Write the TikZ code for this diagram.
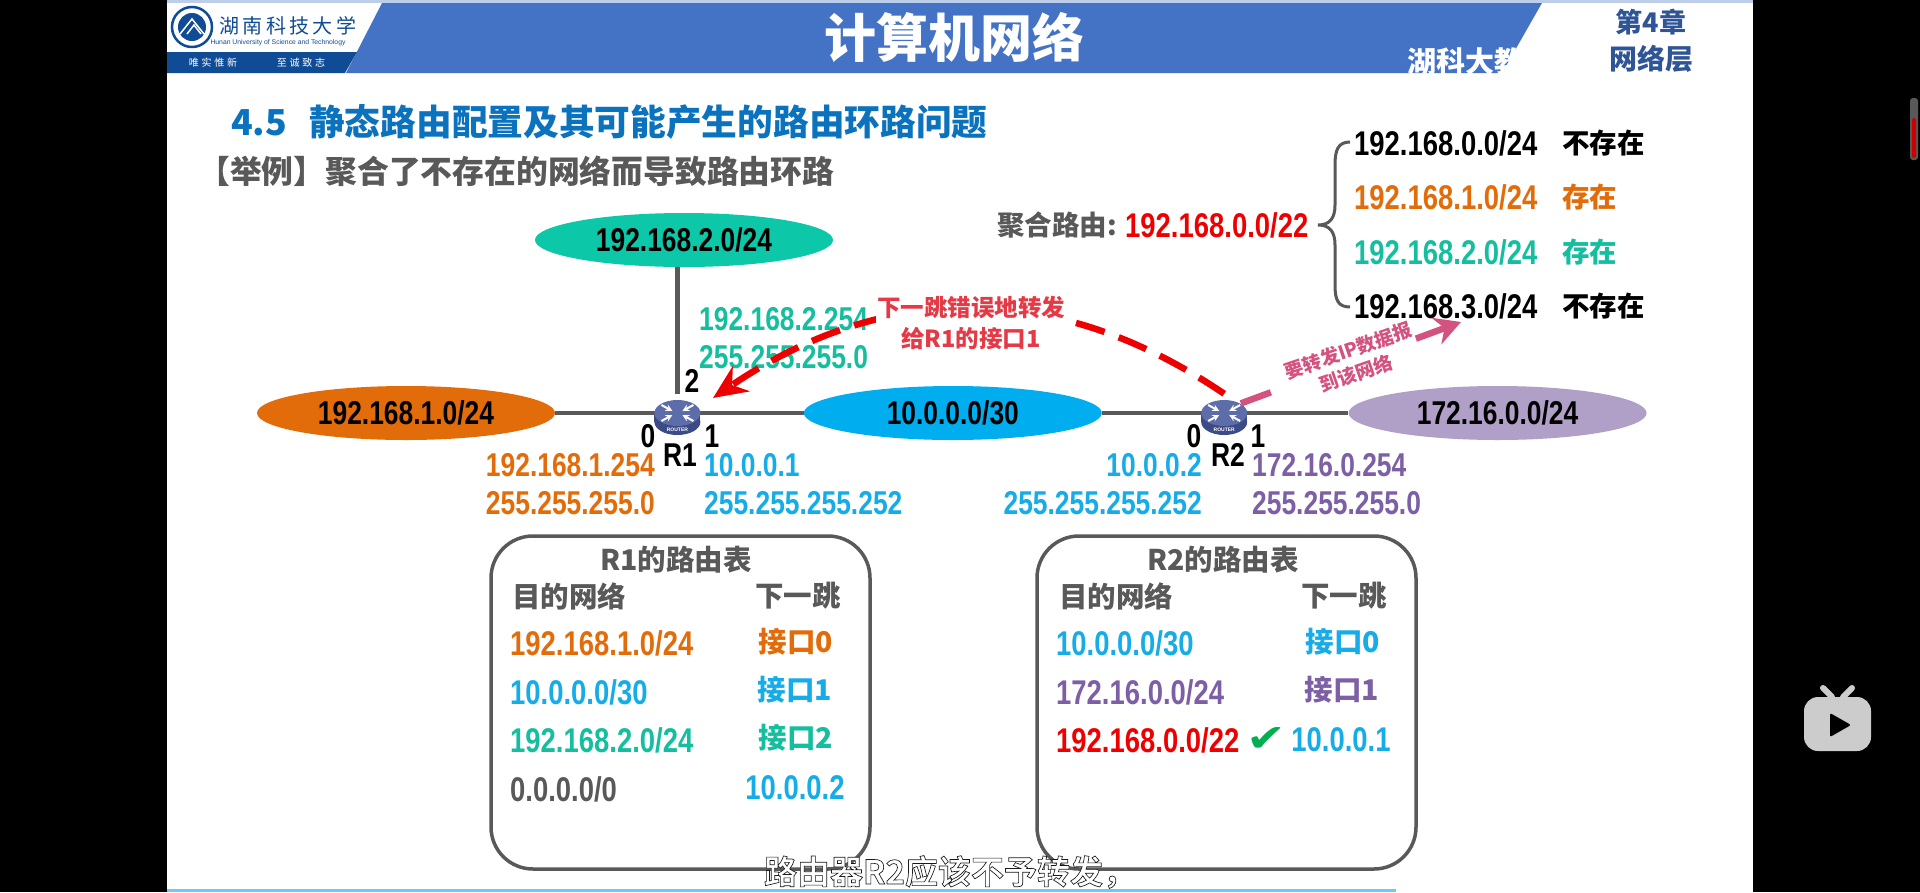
\documentclass[tikz,border=0pt]{standalone}
\usepackage{xcolor}
\usepackage{fontspec}
\usepackage{tikz}
\usetikzlibrary{shapes,arrows,arrows.meta,positioning,calc}
\setmainfont{Liberation Sans}
\newfontfamily\cjk{Noto Sans CJK SC}
\newfontfamily\cjkfat[FakeBold=2]{Noto Sans CJK SC Bold}
\newfontfamily\numf[FakeStretch=0.8]{Liberation Sans}
\newfontfamily\symb[FakeStretch=1.25]{DejaVu Sans}
\newcommand{\fsz}[1]{\fontsize{#1}{#1}\selectfont}
\definecolor{headblue}{HTML}{4472C4}
\definecolor{logoblue}{HTML}{0F4C95}
\definecolor{chapblue}{HTML}{2F5597}
\definecolor{titleblue}{HTML}{0B72BE}
\definecolor{txtgray}{HTML}{595959}
\definecolor{netgreen}{HTML}{0CC8A8}
\definecolor{netorange}{HTML}{E36C0A}
\definecolor{netblue}{HTML}{00AEEF}
\definecolor{netpurple}{HTML}{B09FC6}
\definecolor{lblgreen}{HTML}{14BE9E}
\definecolor{lblblue}{HTML}{16ACE8}
\definecolor{lblpurple}{HTML}{7D5FA5}
\definecolor{redline}{HTML}{EE0000}
\definecolor{redtxt}{HTML}{E63946}
\definecolor{pinkline}{HTML}{D4527F}
\definecolor{okgreen}{HTML}{00B050}
\definecolor{routtop}{HTML}{5C6DAA}
\definecolor{routside}{HTML}{3D4B85}
\newcommand{\routericon}[1]{
  \begin{scope}[shift={(#1.center)}]
    \fill[routside] (0,9) ellipse[x radius=23, y radius=13];
    \fill[routside] (-23,0) rectangle (23,9);
    \fill[routtop] (0,0) ellipse[x radius=23, y radius=13];
    \foreach \sx/\sy in {1/1,-1/1,1/-1,-1/-1} {
      \draw[white, line width=2pt, ->, >=stealth] (\sx*16,\sy*8) -- (\sx*5,\sy*2);
    }
    \node[text=white, font=\bfseries\fsz{5}, inner sep=0] (#1lbl) at (0,17) {ROUTER};
  \end{scope}
}
\begin{document}
\begin{tikzpicture}[
  x=1pt, y=-1pt,
  net/.style={ellipse, minimum width=298pt, minimum height=54pt, inner sep=0pt, font=\numf\bfseries\fsz{33}, text=black},
  router/.style={circle, minimum size=38pt, inner sep=0pt},
  port/.style={inner sep=0pt, font=\numf\bfseries\fsz{33}, text=black},
  addr/.style={inner sep=0pt, font=\numf\bfseries\fsz{33}},
  rowtxt/.style={inner sep=0pt, font=\numf\bfseries\fsz{34.3}},
  cjktxt/.style={inner sep=0pt, font=\cjk\bfseries\fsz{27.5}},
  tabtxt/.style={inner sep=0pt, font=\cjk\bfseries\fsz{28.5}},
  rtable/.style={rectangle, draw=txtgray, line width=3.5pt, rounded corners=42pt, minimum width=379pt, minimum height=333pt, inner sep=0pt},
  link/.style={draw=txtgray, line width=4.5pt},
  redarrow/.style={-{Stealth[length=34pt,width=30pt]}, draw=redline, line width=6.5pt, dash pattern=on 30pt off 15pt},
  pinkarrow/.style={-{Stealth[length=26pt,width=28pt]}, draw=pinkline, line width=6.5pt, dash pattern=on 32pt off 150pt on 60pt}
]
  \useasboundingbox (0,0) rectangle (1920,892);
  \fill[black] (0,0) rectangle (1920,892);
  \fill[white] (167,0) rectangle (1753,892);
  \fill[headblue!35!white] (167,0) rectangle (1753,3);
  \fill[headblue] (382,3) -- (1542,3) -- (1502,73) -- (346,73) -- cycle;
  \fill[logoblue] (167,52) -- (357,52) -- (345,73) -- (167,73) -- cycle;
  \fill[cyan!60!white] (167,889) rectangle (1396,892);

  \node[circle, fill=white, draw=logoblue, line width=2.5pt, minimum size=40pt, inner sep=0pt] (logo) at (192,27) {};
  \fill[logoblue] (192,27) circle[radius=14];
  \draw[white, line width=1.5pt] (180,34) -- (192,19) -- (204,34);
  \draw[white, line width=1.5pt] (187,34) -- (194,25) -- (201,34);
  \node[inner sep=0pt, text=logoblue, font=\cjk\fsz{20}] (school) at (288,26) {湖\,南\,科\,技\,大\,学};
  \node[inner sep=0pt, text=logoblue, font=\fsz{6.8}] (schoolen) at (278,43) {Hunan University of Science and Technology};
  \node[inner sep=0pt, text=white, font=\cjk\fsz{10}] (mottoa) at (213,63) {唯\;实\;惟\;新};
  \node[inner sep=0pt, text=white, font=\cjk\fsz{10}] (mottob) at (301,63) {至\;诚\;致\;志};
  \node[inner sep=0pt, text=white, font=\cjk\bfseries\fsz{52}] (head) at (954,37) {计算机网络};
  \node[inner sep=0pt, text=white, font=\cjk\bfseries\fsz{29}, anchor=west] (mark) at (1407,62) {湖科大教};
  \node[inner sep=0pt, text=chapblue, font=\cjk\bfseries\fsz{27}] (chap) at (1651,22) {第4章};
  \node[inner sep=0pt, text=chapblue, font=\cjk\bfseries\fsz{28}] (chapname) at (1651,59) {网络层};

  \node[inner sep=0pt, text=titleblue, font=\cjk\bfseries\fsz{35.7}, anchor=west] (title) at (231,122) {4.5\hspace{22pt}静态路由配置及其可能产生的路由环路问题};
  \node[inner sep=0pt, text=txtgray, font=\cjk\bfseries\fsz{31.8}, anchor=west] (subtitle) at (198,171) {【举例】聚合了不存在的网络而导致路由环路};

  \node[net, fill=netgreen] (net2) at (684,240) {192.168.2.0/24};
  \node[net, fill=netorange] (net1) at (406,413) {192.168.1.0/24};
  \node[router, right=103pt of net1] (r1) {};
  \node[net, fill=netblue, right=107pt of r1] (net10) {10.0.0.0/30};
  \node[router, right=103pt of net10] (r2) {};
  \node[net, fill=netpurple, right=105pt of r2] (net172) {172.16.0.0/24};
  \draw[link] (net1) -- (r1);
  \draw[link] (r1) -- (net10);
  \draw[link] (net10) -- (r2);
  \draw[link] (r2) -- (net172);
  \draw[link] (r1) -- (r1 |- net2.south);
  \routericon{r1}
  \routericon{r2}

  \node[port] (p12) at (692,381) {2};
  \node[port] (p10) at (648,436) {0};
  \node[port] (p11) at (712,436) {1};
  \node[port] (r1name) at (680,455) {R1};
  \node[port] (p20) at (1194,436) {0};
  \node[port] (p21) at (1258,436) {1};
  \node[port] (r2name) at (1228,455) {R2};

  \node[addr, text=lblgreen, anchor=west] (a2ip) at (699,319) {192.168.2.254};
  \node[addr, text=lblgreen, anchor=west] (a2mask) at (699,357) {255.255.255.0};
  \node[addr, text=netorange, anchor=east] (a1ip) at (655,465) {192.168.1.254};
  \node[addr, text=netorange, anchor=east] (a1mask) at (655,503) {255.255.255.0};
  \node[addr, text=lblblue, anchor=west] (a10ip) at (704,465) {10.0.0.1};
  \node[addr, text=lblblue, anchor=west] (a10mask) at (704,503) {255.255.255.252};
  \node[addr, text=lblblue, anchor=east] (b10ip) at (1202,465) {10.0.0.2};
  \node[addr, text=lblblue, anchor=east] (b10mask) at (1202,503) {255.255.255.252};
  \node[addr, text=lblpurple, anchor=west] (b17ip) at (1252,465) {172.16.0.254};
  \node[addr, text=lblpurple, anchor=west] (b17mask) at (1252,503) {255.255.255.0};

  \node[cjktxt, text=txtgray, anchor=east] (sumlbl) at (1117,225) {聚合路由:};
  \node[rowtxt, text=redline, anchor=west] (sumnet) at (1125,225) {192.168.0.0/22};
  \draw[draw=txtgray, line width=3pt] (1350,142) .. controls (1338,142) and (1335,150) .. (1335,165) -- (1335,205) .. controls (1335,218) and (1330,225) .. (1318,225) .. controls (1330,225) and (1335,232) .. (1335,245) -- (1335,285) .. controls (1335,300) and (1338,307) .. (1350,307);
  \node[rowtxt, text=black, anchor=west] (s0) at (1354,143) {192.168.0.0/24};
  \node[rowtxt, text=netorange, anchor=west] (s1) at (1354,197) {192.168.1.0/24};
  \node[rowtxt, text=lblgreen, anchor=west] (s2) at (1354,252) {192.168.2.0/24};
  \node[rowtxt, text=black, anchor=west] (s3) at (1354,306) {192.168.3.0/24};
  \node[cjktxt, text=black, anchor=west] (t0) at (1562,143) {不存在};
  \node[cjktxt, text=netorange, anchor=west] (t1) at (1562,197) {存在};
  \node[cjktxt, text=lblgreen, anchor=west] (t2) at (1562,252) {存在};
  \node[cjktxt, text=black, anchor=west] (t3) at (1562,306) {不存在};

  \coordinate (tipone) at (713,398);
  \coordinate (tipnet) at (1461,322);
  \draw[redarrow] (r2.north) .. controls (1057,280) and (885,281) .. (tipone);
  \draw[pinkarrow] (r2.30) -- (tipnet);
  \node[fill=white, inner sep=1pt, align=center, text=redtxt, font=\cjk\bfseries\fsz{23.5}] (wrong) at (971,323) {下一跳错误地转发\\[8pt]给R1的接口1};
  \node[fill=white, inner sep=1pt, align=center, text=pinkline, rotate=19, font=\cjk\bfseries\fsz{19}] (fwd) at (1352,362) {要转发IP数据报\\[5pt]到该网络};

  \node[rtable] (tab1) at (680.5,702.5) {};
  \node[tabtxt, text=txtgray] (tab1name) at (676,560) {R1的路由表};
  \node[tabtxt, text=txtgray, anchor=west] (tab1dst) at (512,596) {目的网络};
  \node[tabtxt, text=txtgray] (tab1hop) at (798,596) {下一跳};
  \node[rowtxt, text=netorange, anchor=west] (c1a) at (510,643) {192.168.1.0/24};
  \node[rowtxt, text=lblblue, anchor=west] (c1b) at (510,692) {10.0.0.0/30};
  \node[rowtxt, text=lblgreen, anchor=west] (c1c) at (510,740) {192.168.2.0/24};
  \node[rowtxt, text=txtgray, anchor=west] (c1d) at (510,789) {0.0.0.0/0};
  \node[tabtxt, text=netorange] (h1a) at (796,642) {接口0};
  \node[tabtxt, text=lblblue] (h1b) at (795,690) {接口1};
  \node[tabtxt, text=lblgreen] (h1c) at (796,738) {接口2};
  \node[rowtxt, text=lblblue] (h1d) at (795,788) {10.0.0.2};

  \node[rtable] (tab2) at (1226.5,702.5) {};
  \node[tabtxt, text=txtgray] (tab2name) at (1223,560) {R2的路由表};
  \node[tabtxt, text=txtgray, anchor=west] (tab2dst) at (1059,596) {目的网络};
  \node[tabtxt, text=txtgray] (tab2hop) at (1344,596) {下一跳};
  \node[rowtxt, text=lblblue, anchor=west] (c2a) at (1056,643) {10.0.0.0/30};
  \node[rowtxt, text=lblpurple, anchor=west] (c2b) at (1056,692) {172.16.0.0/24};
  \node[rowtxt, text=redline, anchor=west] (c2c) at (1056,740) {192.168.0.0/22};
  \node[tabtxt, text=lblblue] (h2a) at (1343,642) {接口0};
  \node[tabtxt, text=lblpurple] (h2b) at (1342,690) {接口1};
  \node[inner sep=0pt, text=okgreen, font=\symb\fsz{38}] (okmark) at (1266,740) {✔};
  \node[rowtxt, text=lblblue] (h2c) at (1341,740) {10.0.0.1};

  \node[inner sep=0pt, text=white, font=\cjkfat\fsz{33}] (caption) at (950,872) {\special{pdf:code 0.1 0.1 0.1 RG}路由器R2应该不予转发，};

  \fill[black!65, rounded corners=3pt] (1910,98) rectangle (1918,160);
  \fill[red!80!black, rounded corners=2pt] (1912,118) rectangle (1916,158);
  \fill[black!20, rounded corners=14pt] (1804,697) rectangle (1871,751);
  \draw[black!20, line width=6pt, line cap=round] (1823,688) -- (1832,697);
  \draw[black!20, line width=6pt, line cap=round] (1852,688) -- (1843,697);
  \fill[black, rounded corners=2pt] (1830,713) -- (1851,725) -- (1830,737) -- cycle;
\end{tikzpicture}
\end{document}
